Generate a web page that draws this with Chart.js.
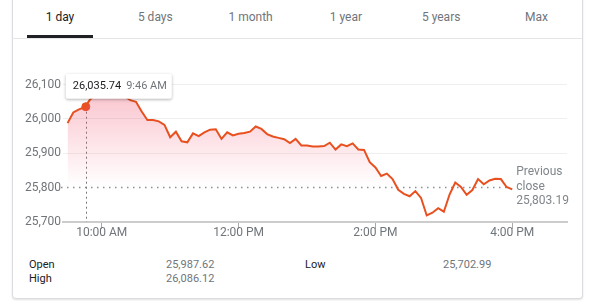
<!DOCTYPE html>
<html>
<head>
<meta charset="utf-8">
<script src="https://cdn.jsdelivr.net/npm/chart.js@4/dist/chart.umd.min.js"></script>
<style>
  html, body { margin: 0; padding: 0; background: #fff; }
  body { width: 590px; height: 304px; position: relative; overflow: hidden; font-family: Roboto, Arial, sans-serif; }
  .card { position: absolute; left: 12px; top: -10px; width: 569px; height: 308px; border: 1px solid #dadce0; border-top: none; border-radius: 0 0 4px 4px; box-shadow: 0 1px 2px rgba(0,0,0,0.12); }
  .tab { position: absolute; top: 10px; width: 96px; text-align: center; font-size: 12px; color: #70757a; }
  .tab.active { color: #202124; }
  .underline { position: absolute; left: 27px; top: 35px; width: 66px; height: 3px; background: #202124; }
  .sep { position: absolute; left: 12px; top: 38px; width: 570px; height: 1px; background: #e6e6e6; }
  #chart { position: absolute; left: 12px; top: 60px; }
  .stat { position: absolute; font-size: 11px; line-height: 14px; }
  .stat.k { color: #202124; }
  .stat.v { color: #70757a; }
</style>
</head>
<body>
<div class="card"></div>
<div id="tabs"></div>
<div class="underline"></div>
<div class="sep"></div>
<canvas id="chart" width="570" height="186"></canvas>
<div id="stats"></div>
<script>
// tabs and stats
const tabNames = ['1 day', '5 days', '1 month', '1 year', '5 years', 'Max'];
const statLabels = ['Open', 'High', 'Low'];
const statValues = ['25,987.62', '26,086.12', '25,702.99'];

// intraday series, 5 minute closes
const times = ['9:30','9:35','9:40','9:45','9:50','9:55',
  '10:00','10:05','10:10','10:15','10:20','10:25','10:30','10:35','10:40','10:45','10:50','10:55',
  '11:00','11:05','11:10','11:15','11:20','11:25','11:30','11:35','11:40','11:45','11:50','11:55',
  '12:00','12:05','12:10','12:15','12:20','12:25','12:30','12:35','12:40','12:45','12:50','12:55',
  '13:00','13:05','13:10','13:15','13:20','13:25','13:30','13:35','13:40','13:45','13:50','13:55',
  '14:00','14:05','14:10','14:15','14:20','14:25','14:30','14:35','14:40','14:45','14:50','14:55',
  '15:00','15:05','15:10','15:15','15:20','15:25','15:30','15:35','15:40','15:45','15:50','15:55',
  '16:00'];
const prices = [25988, 26019, 26028, 26034, 26058, 26070,
  26078, 26084, 26080, 26072, 26066, 26055, 26050, 26022, 25997, 25997, 25993, 25983,
  25947, 25963, 25935, 25932, 25958, 25950, 25961, 25969, 25970, 25942, 25961, 25952,
  25957, 25959, 25963, 25978, 25971, 25956, 25949, 25945, 25941, 25930, 25942, 25923,
  25923, 25920, 25920, 25921, 25931, 25911, 25926, 25921, 25929, 25911, 25910, 25874,
  25859, 25834, 25841, 25825, 25794, 25782, 25775, 25790, 25770, 25719, 25727, 25740,
  25730, 25780, 25815, 25802, 25779, 25793, 25825, 25810, 25821, 25826, 25825, 25802,
  25795];

const prevClose = 25803.19;
const prevCloseLabel = ['Previous', 'close', '25,803.19'];
const hoverTime = '9:46';
const hoverValue = 26035.74;
const hoverLabel = ['26,035.74', '9:46 AM'];

const xTickTimes = ['10:00', '12:00', '14:00', '16:00'];
const xTickLabels = ['10:00 AM', '12:00 PM', '2:00 PM', '4:00 PM'];
const yTicks = [25700, 25800, 25900, 26000, 26100];

const lineColor = '#e8501f';
const toMin = (t) => { const p = t.split(':'); return (+p[0]) * 60 + (+p[1]); };

// build html bits
const tabsEl = document.getElementById('tabs');
tabNames.forEach((name, i) => {
  const d = document.createElement('div');
  d.className = 'tab' + (i === 0 ? ' active' : '');
  d.style.left = (12 + i * 95.3) + 'px';
  d.textContent = name;
  tabsEl.appendChild(d);
});
const statsEl = document.getElementById('stats');
const statPos = [[29, 166, 258], [29, 166, 272], [305, 443, 258]];
statLabels.forEach((lab, i) => {
  const [kx, vx, y] = statPos[i];
  const k = document.createElement('div');
  k.className = 'stat k'; k.style.left = kx + 'px'; k.style.top = y + 'px'; k.textContent = lab;
  const v = document.createElement('div');
  v.className = 'stat v'; v.style.left = vx + 'px'; v.style.top = y + 'px'; v.textContent = statValues[i];
  statsEl.appendChild(k); statsEl.appendChild(v);
});

const overlay = {
  id: 'overlay',
  beforeDatasetsDraw(chart) {
    const { ctx, chartArea, scales: { x, y } } = chart;
    ctx.save();
    // previous close dotted line
    const py = Math.round(y.getPixelForValue(prevClose)) + 0.5;
    ctx.strokeStyle = '#8a8f94';
    ctx.lineWidth = 1.5;
    ctx.setLineDash([1.5, 4.5]);
    ctx.beginPath();
    ctx.moveTo(chartArea.left - 2, py);
    ctx.lineTo(x.getPixelForValue(toMin(xTickTimes[3])) - 2, py);
    ctx.stroke();
    // hover guide
    const hx = Math.round(x.getPixelForValue(toMin(hoverTime))) + 0.5;
    ctx.lineWidth = 1;
    ctx.setLineDash([2, 3]);
    ctx.strokeStyle = '#777';
    ctx.beginPath();
    ctx.moveTo(hx, y.getPixelForValue(hoverValue));
    ctx.lineTo(hx, chartArea.bottom);
    ctx.stroke();
    ctx.restore();
  },
  afterDatasetsDraw(chart) {
    const { ctx, scales: { x, y } } = chart;
    ctx.save();
    // tooltip box
    const hx = x.getPixelForValue(toMin(hoverTime));
    const hy = y.getPixelForValue(hoverValue);
    const bx = hx - 20, by = hy - 33, bw = 106, bh = 25;
    ctx.shadowColor = 'rgba(0,0,0,0.3)';
    ctx.shadowBlur = 3;
    ctx.shadowOffsetY = 1;
    ctx.fillStyle = '#fff';
    ctx.beginPath();
    ctx.roundRect(bx, by, bw, bh, 2);
    ctx.fill();
    ctx.shadowColor = 'transparent';
    ctx.font = '11px Roboto';
    ctx.textBaseline = 'middle';
    ctx.fillStyle = '#202124';
    ctx.fillText(hoverLabel[0], bx + 7, by + bh / 2);
    const w = ctx.measureText(hoverLabel[0]).width;
    ctx.fillStyle = '#70757a';
    ctx.fillText(hoverLabel[1], bx + 7 + w + 5, by + bh / 2);
    // previous close label
    ctx.font = '12px Roboto';
    ctx.fillStyle = '#80868b';
    const tx = x.getPixelForValue(toMin(xTickTimes[3])) + 4;
    prevCloseLabel.forEach((t, i) => ctx.fillText(t, tx, 112 + i * 14.5));
    ctx.restore();
  }
};

const points = times.map((t, i) => ({ x: toMin(t), y: prices[i] }));

new Chart(document.getElementById('chart'), {
  type: 'line',
  data: {
    datasets: [{
      data: points,
      borderColor: lineColor,
      borderWidth: 2,
      pointRadius: 0,
      tension: 0,
      fill: 'start',
      backgroundColor: (c) => {
        const ch = c.chart;
        if (!ch.chartArea) return 'transparent';
        const ys = ch.scales.y;
        const g = ch.ctx.createLinearGradient(0, ys.getPixelForValue(26100), 0, ys.getPixelForValue(prevClose));
        g.addColorStop(0, 'rgba(240, 70, 100, 0.34)');
        g.addColorStop(1, 'rgba(240, 70, 100, 0)');
        return g;
      }
    }, {
      data: [{ x: toMin(hoverTime), y: hoverValue }],
      showLine: false,
      pointRadius: 4,
      pointBackgroundColor: lineColor,
      pointBorderColor: lineColor
    }]
  },
  options: {
    responsive: false,
    animation: false,
    events: [],
    layout: { padding: { top: 6, right: 15, left: 0, bottom: 0 } },
    plugins: { legend: { display: false }, tooltip: { enabled: false } },
    scales: {
      x: {
        type: 'linear',
        min: toMin('9:26'),
        max: toMin('16:48'),
        afterBuildTicks: (s) => { s.ticks = xTickTimes.map(t => ({ value: toMin(t) })); },
        afterFit: (s) => { s.height = 24; },
        border: { color: '#cccccc', width: 2 },
        grid: { drawOnChartArea: false, drawTicks: true, tickLength: 7, color: '#aaaaaa' },
        ticks: {
          padding: -3,
          color: '#70757a',
          font: { family: 'Roboto', size: 12 },
          maxRotation: 0,
          callback: (v) => xTickLabels[xTickTimes.map(toMin).indexOf(v)]
        }
      },
      y: {
        min: 25700,
        max: 26145,
        afterBuildTicks: (s) => { s.ticks = yTicks.map(v => ({ value: v })); },
        afterFit: (s) => { s.width = 51; },
        border: { display: false },
        grid: {
          drawTicks: false,
          color: (c) => (c.tick && c.tick.value > 25850) ? '#efefef' : 'transparent'
        },
        ticks: {
          padding: 2,
          color: '#70757a',
          font: { family: 'Roboto', size: 12 },
          callback: (v) => v.toLocaleString('en-US')
        }
      }
    }
  },
  plugins: [overlay]
});
</script>
</body>
</html>
